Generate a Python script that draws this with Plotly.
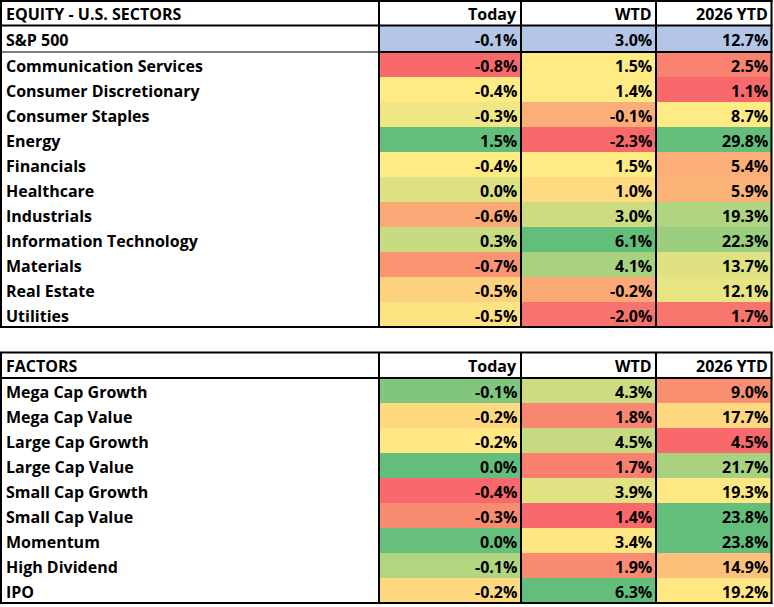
import plotly.graph_objects as go

# column headers
columns = ["Today", "WTD", "2026 YTD"]

# equity sectors
sector_title = "EQUITY - U.S. SECTORS"
benchmark_name = "S&P 500"
benchmark_values = [-0.1, 3.0, 12.7]
sector_names = ["Communication Services", "Consumer Discretionary", "Consumer Staples",
                "Energy", "Financials", "Healthcare", "Industrials",
                "Information Technology", "Materials", "Real Estate", "Utilities"]
sector_today = [-0.8, -0.4, -0.3, 1.5, -0.4, 0.0, -0.6, 0.3, -0.7, -0.5, -0.5]
sector_wtd = [1.5, 1.4, -0.1, -2.3, 1.5, 1.0, 3.0, 6.1, 4.1, -0.2, -2.0]
sector_ytd = [2.5, 1.1, 8.7, 29.8, 5.4, 5.9, 19.3, 22.3, 13.7, 12.1, 1.7]

# factors
factor_title = "FACTORS"
factor_names = ["Mega Cap Growth", "Mega Cap Value", "Large Cap Growth", "Large Cap Value",
                "Small Cap Growth", "Small Cap Value", "Momentum", "High Dividend", "IPO"]
factor_today = [-0.1, -0.2, -0.2, 0.0, -0.4, -0.3, 0.0, -0.1, -0.2]
factor_wtd = [4.3, 1.8, 4.5, 1.7, 3.9, 1.4, 3.4, 1.9, 6.3]
factor_ytd = [9.0, 17.7, 4.5, 21.7, 19.3, 23.8, 23.8, 14.9, 19.2]

# conditional-format fills as they appear in the sheet (per column)
BENCH_FILL = "#B4C6E7"
sector_fills = [
    ["#F8696B", "#FFEB84", "#F0E683", "#63BE7B", "#FFEB84", "#DFE283",
     "#FBAA77", "#C9DB81", "#FA9473", "#FED17F", "#FEE383"],
    ["#FFEB84", "#FFEB84", "#FBAE78", "#F8696B", "#FFEB84", "#FEDA80",
     "#CDDC81", "#63BE7B", "#A8D27F", "#FBAA77", "#F8736D"],
    ["#F98370", "#F8696B", "#FFEB84", "#63BE7B", "#FBAE78", "#FBB378",
     "#B0D580", "#9BCE7F", "#DEE283", "#E8E583", "#F8756E"],
]
factor_fills = [
    ["#80C67D", "#FED980", "#FFE884", "#63BE7B", "#F8696B", "#F98B71",
     "#66BF7C", "#B1D580", "#FED980"],
    ["#CCDC81", "#F98670", "#C6DA81", "#F97F6F", "#E1E383", "#F8696B",
     "#FEE783", "#F98B71", "#63BE7B"],
    ["#F98E71", "#FED880", "#F8696B", "#A8D27F", "#FEE883", "#63BE7B",
     "#63BE7B", "#FCC27B", "#FFE884"],
]

W, H = 774, 607
COL_EDGES = [1, 379, 521, 656, 771.5]
ROW_H = 25
FONT = dict(family="Open Sans, Calibri, sans-serif", size=16, color="black", weight="bold")

fig = go.Figure()
shapes = []
annotations = []
border_x, border_y = [], []
thin_x, thin_y = [], []


def cell_fill(x0, x1, y0, y1, color):
    shapes.append(dict(type="rect", xref="x", yref="y", x0=x0, x1=x1, y0=y0, y1=y1,
                       fillcolor=color, line=dict(width=0), layer="below"))


def segment(x0, y0, x1, y1, thin=False):
    xs, ys = (thin_x, thin_y) if thin else (border_x, border_y)
    xs.extend([x0, x1, None])
    ys.extend([y0, y1, None])


def label(text, y, x=4):
    annotations.append(dict(x=x, y=y, xref="x", yref="y", text=text, showarrow=False,
                            xanchor="left", yanchor="middle", font=FONT))


def number(text, col, y):
    annotations.append(dict(x=COL_EDGES[col + 2] - 2, y=y, xref="x", yref="y", text=text,
                            showarrow=False, xanchor="right", yanchor="middle", font=FONT))


def draw_block(top, title, names, values, fills, bench=None):
    header_bottom = top + 25.5
    label(title, (top + header_bottom) / 2 + 1)
    for c, name in enumerate(columns):
        number(name, c, (top + header_bottom) / 2 + 1)
    body_top = header_bottom
    if bench is not None:
        bench_name, bench_vals = bench
        bench_bottom = body_top + 26.5
        for c, v in enumerate(bench_vals):
            cell_fill(COL_EDGES[c + 1], COL_EDGES[c + 2], body_top, bench_bottom, BENCH_FILL)
            number(f"{v:.1f}%", c, (body_top + bench_bottom) / 2 + 1)
        label(bench_name, (body_top + bench_bottom) / 2 + 1)
        body_top = bench_bottom
    for i, name in enumerate(names):
        y0 = body_top + i * ROW_H
        y1 = y0 + ROW_H
        label(name, (y0 + y1) / 2 + 1)
        for c in range(len(columns)):
            cell_fill(COL_EDGES[c + 1], COL_EDGES[c + 2], y0, y1, fills[c][i])
            number(f"{values[c][i]:.1f}%", c, (y0 + y1) / 2 + 1)
    bottom = body_top + len(names) * ROW_H
    left, right = COL_EDGES[0] - 1, COL_EDGES[-1] + 1
    segment(left, top + 1 if top == 0 else top, right, top + 1 if top == 0 else top)
    segment(left, header_bottom, right, header_bottom)
    if bench is not None:
        segment(left, body_top, COL_EDGES[1], body_top, thin=True)
        segment(COL_EDGES[1], body_top, right, body_top)
    segment(left, bottom, right, bottom)
    for x in COL_EDGES:
        segment(x, top, x, bottom + 1)


draw_block(0, sector_title, sector_names, [sector_today, sector_wtd, sector_ytd],
           sector_fills, bench=(benchmark_name, benchmark_values))
draw_block(352.5, factor_title, factor_names, [factor_today, factor_wtd, factor_ytd],
           factor_fills)

fig.add_trace(go.Scatter(x=border_x, y=border_y, mode="lines", hoverinfo="skip",
                         line=dict(color="black", width=2)))
fig.add_trace(go.Scatter(x=thin_x, y=thin_y, mode="lines", hoverinfo="skip",
                         line=dict(color="black", width=1.2)))

fig.update_layout(
    width=W, height=H,
    margin=dict(l=0, r=0, t=0, b=0),
    paper_bgcolor="white", plot_bgcolor="white",
    shapes=shapes, annotations=annotations,
    showlegend=False,
)
fig.update_xaxes(range=[0, W], visible=False, fixedrange=True)
fig.update_yaxes(range=[H, 0], visible=False, fixedrange=True)

fig.write_html("out.html", config={"displayModeBar": False},
               post_script="document.body.style.margin = '0';")
